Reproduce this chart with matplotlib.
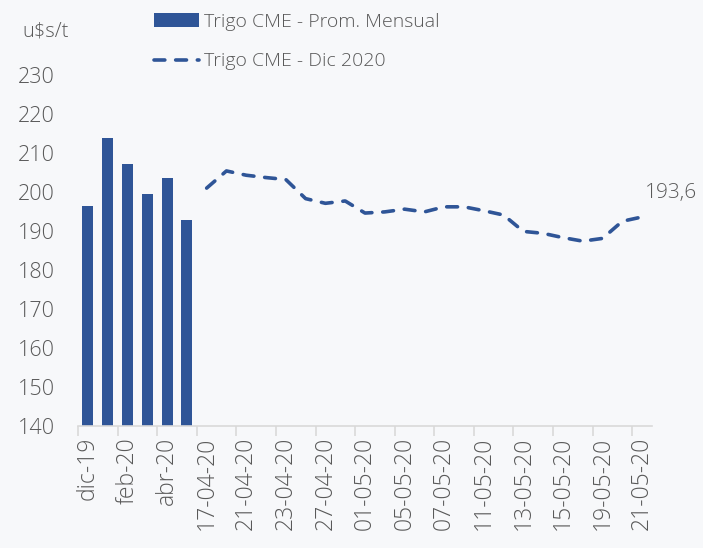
import matplotlib.pyplot as plt
import numpy as np

plt.rcParams['font.family'] = ['Open Sans', 'DejaVu Sans']
plt.rcParams['font.weight'] = 'light'

# monthly averages (bars)
meses = ['dic-19', 'ene-20', 'feb-20', 'mar-20', 'abr-20', 'may-20']
prom_mensual = [196.4, 213.9, 207.3, 199.4, 203.6, 192.8]

# daily Dec 2020 contract (dashed line)
fechas = ['17-04-20', '20-04-20', '21-04-20', '22-04-20', '23-04-20', '24-04-20',
          '27-04-20', '30-04-20', '01-05-20', '04-05-20', '05-05-20', '06-05-20',
          '07-05-20', '08-05-20', '11-05-20', '12-05-20', '13-05-20', '14-05-20',
          '15-05-20', '18-05-20', '19-05-20', '20-05-20', '21-05-20']
dic2020 = [201.0, 205.4, 204.3, 203.7, 203.2, 198.3, 197.1, 197.7, 194.6, 194.9,
           195.6, 194.9, 196.2, 196.2, 195.2, 194.1, 189.9, 189.4, 188.3, 187.4,
           188.1, 192.5, 193.6]

azul = '#2f5597'
gris = '#595959'
fondo = '#f7f8fa'

labels = meses + fechas
n = len(labels)
x_bar = np.arange(len(meses))
x_line = np.arange(len(meses), n)

fig = plt.figure(figsize=(7.03, 5.48), dpi=100, facecolor=fondo)
ax = fig.add_axes([78 / 703, 1 - 426 / 548, 574 / 703, 351 / 548])
ax.set_facecolor(fondo)

barras = ax.bar(x_bar, prom_mensual, width=0.55, color=azul, zorder=2)
linea, = ax.plot(x_line, dic2020, color=azul, lw=2.6, ls=(0, (3.0, 3.0)),
                 dash_capstyle='round', zorder=3)

ax.set_ylim(140, 230)
ax.set_yticks(range(140, 231, 10))
ax.set_xlim(-0.5, n - 0.5)

# labels every other category, tick marks on the boundaries
ax.set_xticks(np.arange(0, n, 2))
ax.set_xticklabels(labels[::2], rotation=90)
ax.set_xticks(np.arange(-0.5, n - 1, 2), minor=True)
ax.tick_params(axis='x', which='major', length=0, pad=8, labelsize=16.5, labelcolor=gris)
ax.tick_params(axis='x', which='minor', length=7, width=1.2, color='#d9d9d9')
ax.tick_params(axis='y', length=0, pad=16.5, labelsize=15.5, labelcolor=gris)

for s in ['top', 'right', 'left']:
    ax.spines[s].set_visible(False)
ax.spines['bottom'].set_color('#d9d9d9')
ax.spines['bottom'].set_linewidth(1.2)

ax.annotate(f"{dic2020[-1]:.1f}".replace('.', ','), (x_line[-1], dic2020[-1]),
            xytext=(2, 17), textcoords='offset points', ha='left', va='center',
            fontsize=15, color=gris)

fig.text(22 / 703, 1 - 32 / 548, 'u$s/t', fontsize=14.5, color=gris, va='center', ha='left')

fig.legend([barras, linea], ['Trigo CME - Prom. Mensual', 'Trigo CME - Dic 2020'],
           loc='upper left', bbox_to_anchor=(154 / 703, 1 - 13 / 548), frameon=False,
           fontsize=14, labelcolor=gris, handlelength=2.3, handletextpad=0.25,
           labelspacing=1.1, borderaxespad=0, borderpad=0)

fig.savefig('out.png', dpi=100, facecolor=fondo)
